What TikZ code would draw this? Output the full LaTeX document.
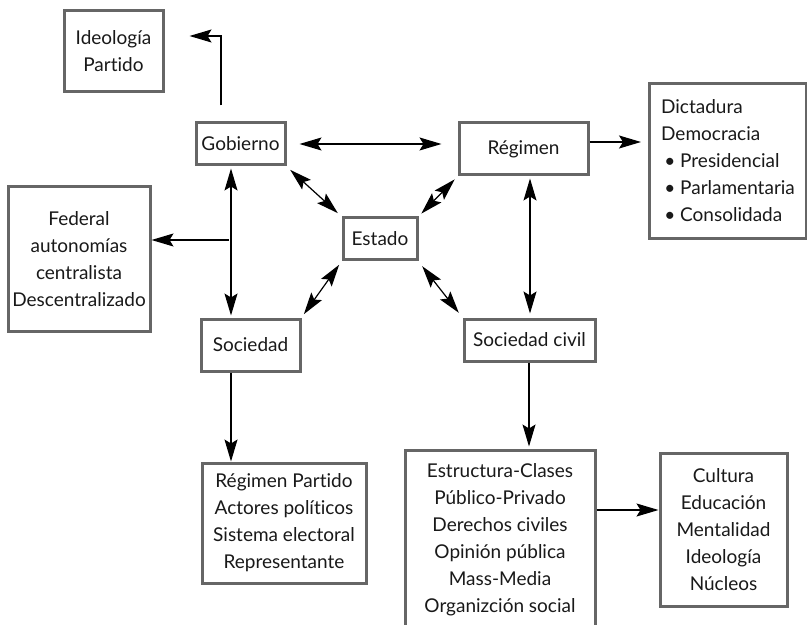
\documentclass[tikz,border=0pt]{standalone}
\usepackage{fontspec}
\setmainfont{Lato}[Ligatures={NoCommon}]
\usepackage{tikz}
\usetikzlibrary{arrows.meta}

\tikzset{
  caja/.style={draw=black!60,line width=1.5pt,fill=white,align=center,inner sep=2pt,
    font=\fontsize{9.5}{13.5}\selectfont,text=black!90},
  punta/.tip={Stealth[length=11pt,width=6.5pt,inset=2pt]},
  flecha/.style={-punta,line width=0.6pt},
  dflecha/.style={punta-punta,line width=0.6pt}
}

\begin{document}
\begin{tikzpicture}[x=0.5pt,y=-0.5pt]
    \useasboundingbox (0,0) rectangle (807,625);
    \node[caja,minimum width=49.5pt,minimum height=40.5pt] (ideo) at (113.5,51.5) {Ideología\\Partido};
    \node[caja,minimum width=44.5pt,minimum height=21pt] (gob) at (240.5,144) {Gobierno};
    \node[caja,minimum width=64.5pt,minimum height=26pt] (reg) at (523.5,149) {Régimen};
    \node[caja,minimum width=78.5pt,minimum height=77.5pt,align=left,anchor=north west] (dict) at (648,82)
      {Dictadura\\Democracia\\\,\textbullet\ Presidencial\\\,\textbullet\ Parlamentaria\\\,\textbullet\ Consolidada};
    \node[caja,minimum width=37pt,minimum height=21pt] (estado) at (380,239) {Estado};
    \node[caja,minimum width=71pt,minimum height=72pt] (fed) at (79,259) {Federal\\autonomías\\centralista\\Descentralizado};
    \node[caja,minimum width=49.5pt,minimum height=26pt] (soc) at (250.5,345) {Sociedad};
    \node[caja,minimum width=65.5pt,minimum height=21pt] (socciv) at (529.5,340) {Sociedad civil};
    \node[caja,minimum width=82pt,minimum height=60pt] (rpart) at (284,523)
      {Régimen Partido\\Actores políticos\\Sistema electoral\\Representante};
    \node[caja,minimum width=95pt,minimum height=90pt] (estr) at (500,540)
      {Estructura-Clases\\Público-Privado\\Derechos civiles\\Opinión pública\\Mass-Media\\Organizción social};
    \node[caja,minimum width=63.5pt,minimum height=76.5pt] (cult) at (723.5,529.5)
      {Cultura\\Educación\\Mentalidad\\Ideología\\Núcleos};
    %
    \draw[flecha] ([xshift=-9.75pt,yshift=8pt]gob.north) |- ([xshift=12.5pt,yshift=7.75pt]ideo.east);
    \draw[dflecha,shorten <=6.5pt,shorten >=8pt] (gob.east) -- (gob.east -| reg.west);
    \draw[flecha,shorten >=3.5pt] ([yshift=3.5pt]reg.east) -- ([yshift=3.5pt]reg.east -| dict.west);
    \draw[dflecha,shorten <=1pt,shorten >=1pt] ([xshift=-4.75pt]gob.south) -- ([xshift=-4.75pt]gob.south |- soc.north);
    \coordinate (fork) at (229,240);
    \draw[flecha] (fork) -- (fork -| fed.east);
    \draw[dflecha,shorten <=2.5pt,shorten >=2.5pt] (gob.south east) -- (estado.north west);
    \draw[dflecha,shorten <=2pt,shorten >=2pt] (reg.south west) -- (estado.north east);
    \draw[dflecha,shorten <=2pt,shorten >=2pt] (estado.south west) -- (soc.north east);
    \draw[dflecha,shorten <=3pt,shorten >=3pt] (estado.south east) -- (socciv.north west);
    \draw[dflecha,shorten <=1pt,shorten >=2pt] ([xshift=3.25pt]reg.south) -- ([xshift=3.25pt]reg.south |- socciv.north);
    \draw[flecha] ([xshift=-9.75pt]soc.south) -- ([xshift=-9.75pt]soc.south |- rpart.north);
    \draw[flecha,shorten >=1pt] ([xshift=-0.25pt]socciv.south) -- ([xshift=-0.25pt]socciv.south |- estr.north);
    \draw[flecha] ([yshift=15pt]estr.east) -- ([yshift=15pt]estr.east -| cult.west);
\end{tikzpicture}
\end{document}
